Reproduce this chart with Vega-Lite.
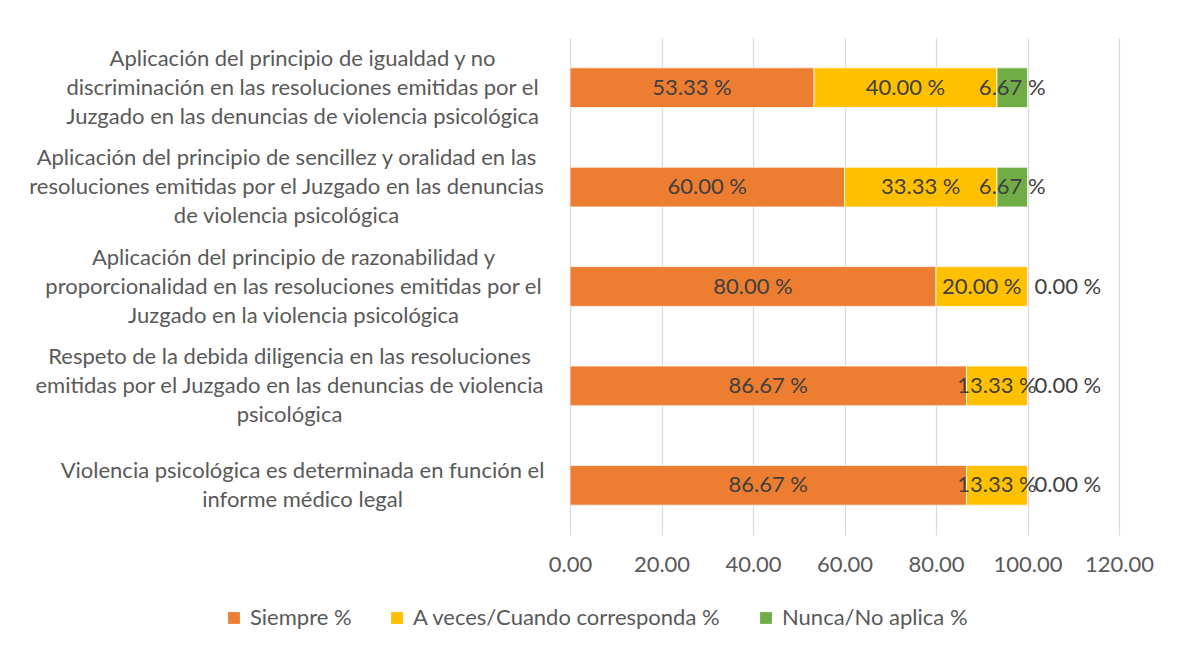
{
  "$schema": "https://vega.github.io/schema/vega-lite/v6.json",
  "width": 549,
  "height": 497,
  "autosize": {"type": "none"},
  "padding": {"left": 570, "top": 38, "right": 62, "bottom": 119},
  "background": "white",
  "config": {"view": {"stroke": null}, "font": "Lato"},
  "data": {
    "values": [
      {"cat": "Aplicación del principio de igualdad y no|discriminación en las resoluciones emitidas por el|Juzgado en las denuncias de violencia psicológica", "k": 1, "serie": "Siempre %", "ord": 1, "value": 53.33},
      {"cat": "Aplicación del principio de igualdad y no|discriminación en las resoluciones emitidas por el|Juzgado en las denuncias de violencia psicológica", "k": 1, "serie": "A veces/Cuando corresponda %", "ord": 2, "value": 40.00},
      {"cat": "Aplicación del principio de igualdad y no|discriminación en las resoluciones emitidas por el|Juzgado en las denuncias de violencia psicológica", "k": 1, "serie": "Nunca/No aplica %", "ord": 3, "value": 6.67},
      {"cat": "Aplicación del principio de sencillez y oralidad en las|resoluciones emitidas por el Juzgado en las denuncias|de violencia psicológica", "k": 2, "serie": "Siempre %", "ord": 1, "value": 60.00},
      {"cat": "Aplicación del principio de sencillez y oralidad en las|resoluciones emitidas por el Juzgado en las denuncias|de violencia psicológica", "k": 2, "serie": "A veces/Cuando corresponda %", "ord": 2, "value": 33.33},
      {"cat": "Aplicación del principio de sencillez y oralidad en las|resoluciones emitidas por el Juzgado en las denuncias|de violencia psicológica", "k": 2, "serie": "Nunca/No aplica %", "ord": 3, "value": 6.67},
      {"cat": "Aplicación del principio de razonabilidad y|proporcionalidad en las resoluciones emitidas por el|Juzgado en la violencia psicológica", "k": 3, "serie": "Siempre %", "ord": 1, "value": 80.00},
      {"cat": "Aplicación del principio de razonabilidad y|proporcionalidad en las resoluciones emitidas por el|Juzgado en la violencia psicológica", "k": 3, "serie": "A veces/Cuando corresponda %", "ord": 2, "value": 20.00},
      {"cat": "Aplicación del principio de razonabilidad y|proporcionalidad en las resoluciones emitidas por el|Juzgado en la violencia psicológica", "k": 3, "serie": "Nunca/No aplica %", "ord": 3, "value": 0.00},
      {"cat": "Respeto de la debida diligencia en las resoluciones|emitidas por el Juzgado en las denuncias de violencia|psicológica", "k": 4, "serie": "Siempre %", "ord": 1, "value": 86.67},
      {"cat": "Respeto de la debida diligencia en las resoluciones|emitidas por el Juzgado en las denuncias de violencia|psicológica", "k": 4, "serie": "A veces/Cuando corresponda %", "ord": 2, "value": 13.33},
      {"cat": "Respeto de la debida diligencia en las resoluciones|emitidas por el Juzgado en las denuncias de violencia|psicológica", "k": 4, "serie": "Nunca/No aplica %", "ord": 3, "value": 0.00},
      {"cat": "Violencia psicológica es determinada en función el|informe médico legal", "k": 5, "serie": "Siempre %", "ord": 1, "value": 86.67},
      {"cat": "Violencia psicológica es determinada en función el|informe médico legal", "k": 5, "serie": "A veces/Cuando corresponda %", "ord": 2, "value": 13.33},
      {"cat": "Violencia psicológica es determinada en función el|informe médico legal", "k": 5, "serie": "Nunca/No aplica %", "ord": 3, "value": 0.00}
    ]
  },
  "transform": [
    {"stack": "value", "groupby": ["cat"], "sort": [{"field": "ord"}], "as": ["v0", "v1"]},
    {"calculate": "(datum.v0 + datum.v1) / 2", "as": "vmid"},
    {"calculate": "format(datum.value, '.2f') + ' %'", "as": "lbl"}
  ],
  "encoding": {
    "y": {
      "field": "cat",
      "type": "nominal",
      "sort": {"field": "k"},
      "scale": {"paddingInner": 0.6, "paddingOuter": 0.3},
      "axis": {
        "title": null,
        "domain": false,
        "ticks": false,
        "labelExpr": "split(datum.label, '|')",
        "labelLimit": 600,
        "labelFont": "Lato",
        "labelFontSize": 22,
        "labelColor": "#595959",
        "labelLineHeight": 29,
        "labelAlign": "center",
        "labelOffset": {
          "condition": {"test": "indexof(datum.value, 'informe') >= 0", "value": -14.5},
          "value": -29
        },
        "labelPadding": {
          "condition": [
            {"test": "indexof(datum.value, 'igualdad') >= 0", "value": 268},
            {"test": "indexof(datum.value, 'sencillez') >= 0", "value": 284},
            {"test": "indexof(datum.value, 'razonabilidad') >= 0", "value": 277},
            {"test": "indexof(datum.value, 'Respeto') >= 0", "value": 281}
          ],
          "value": 268
        }
      }
    }
  },
  "layer": [
    {
      "mark": {"type": "bar", "stroke": "white", "strokeWidth": 0.75},
      "encoding": {
        "x": {
          "field": "v0",
          "type": "quantitative",
          "scale": {"domain": [0, 120], "nice": false},
          "axis": {
            "title": null,
            "values": [0, 20, 40, 60, 80, 100, 120],
            "format": ".2f",
            "domain": false,
            "ticks": false,
            "grid": true,
            "gridColor": "#D9D9D9",
            "gridWidth": 1.2,
            "labelFont": "Lato",
            "labelFontSize": 22,
            "labelColor": "#595959",
            "labelPadding": 19,
            "labelFlush": false,
            "labelOverlap": false
          }
        },
        "x2": {"field": "v1"},
        "color": {
          "field": "serie",
          "type": "nominal",
          "sort": ["Siempre %", "A veces/Cuando corresponda %", "Nunca/No aplica %"],
          "scale": {
            "domain": ["Siempre %", "A veces/Cuando corresponda %", "Nunca/No aplica %"],
            "range": ["#ED7D31", "#FFC000", "#70AD47"]
          },
          "legend": {
            "title": null,
            "orient": "none",
            "direction": "horizontal",
            "legendX": -347,
            "legendY": 569,
            "symbolType": "square",
            "symbolSize": 140,
            "symbolStrokeWidth": 0,
            "labelFont": "Lato",
            "labelFontSize": 22,
            "labelColor": "#595959",
            "labelOffset": 5,
            "columnPadding": 34,
            "labelLimit": 400
          }
        }
      }
    },
    {
      "transform": [{"filter": "datum.value > 0"}],
      "mark": {"type": "text", "align": "center", "baseline": "middle", "font": "Lato", "fontSize": 22, "color": "#404040"},
      "encoding": {
        "x": {"field": "vmid", "type": "quantitative"},
        "text": {"field": "lbl"}
      }
    },
    {
      "transform": [{"filter": "datum.value == 0"}],
      "mark": {"type": "text", "align": "left", "baseline": "middle", "dx": 7, "font": "Lato", "fontSize": 22, "color": "#404040"},
      "encoding": {
        "x": {"field": "v1", "type": "quantitative"},
        "text": {"field": "lbl"}
      }
    }
  ]
}
